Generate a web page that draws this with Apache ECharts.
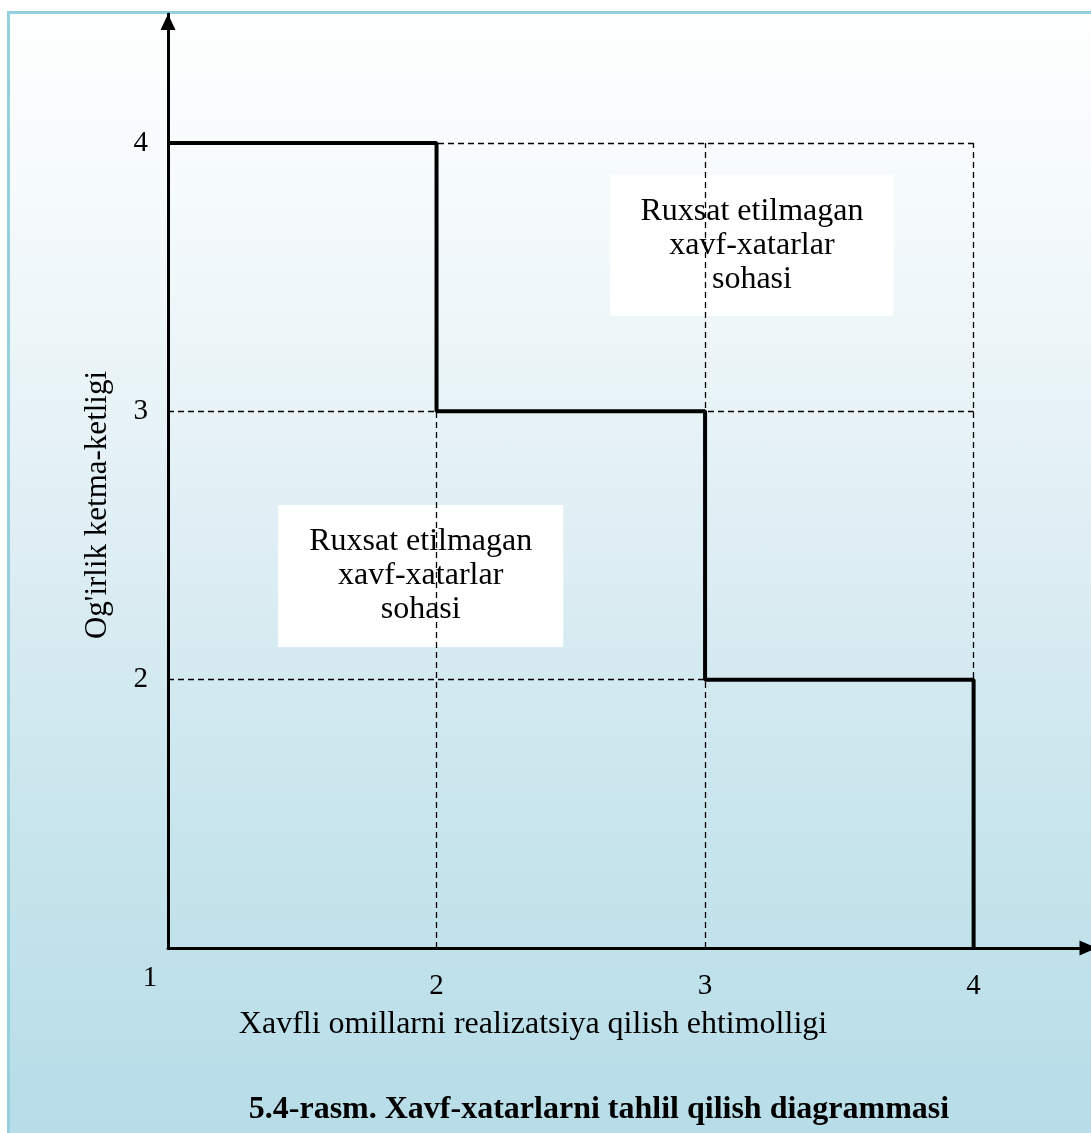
<!DOCTYPE html>
<html>
<head>
<meta charset="utf-8">
<script src="https://cdn.jsdelivr.net/npm/echarts@6/dist/echarts.min.js"></script>
<style>
html,body{margin:0;padding:0;background:#ffffff;width:1091px;height:1133px;overflow:hidden;}
#frame{position:absolute;left:7px;top:11px;width:1081px;height:1119px;border-left:3px solid #94cfdc;border-top:3px solid #94cfdc;background:linear-gradient(to bottom,#feffff 0%,#f3f9fb 20%,#dcedf3 50%,#c6e4ec 75%,#b7dde8 100%);}
#chart{position:absolute;left:0;top:0;width:1091px;height:1133px;}
</style>
</head>
<body>
<div id="frame"></div>
<div id="chart"></div>
<script>
// ---- data ----
var xTicks = [1, 2, 3, 4];
var yTicks = [1, 2, 3, 4];
var stepPoints = [[1, 4], [2, 3], [3, 2], [4, 1]];
var gridX = [2, 3, 4];
var gridY = [2, 3, 4];
var xName = 'Xavfli omillarni realizatsiya qilish ehtimolligi';
var yName = "Og'irlik ketma-ketligi";
var caption = '5.4-rasm. Xavf-xatarlarni tahlil qilish diagrammasi';
var regionText = 'Ruxsat etilmagan\nxavf-xatarlar\nsohasi';
var originLabel = '1';

var FONT = '"Liberation Serif", "Times New Roman", serif';

function tickLabel(v) {
  return (v !== 1 && Math.abs(v - Math.round(v)) < 1e-9) ? String(v) : '';
}

var gridLines = [];
gridX.forEach(function (x) { gridLines.push([{coord: [x, 1]}, {coord: [x, 4]}]); });
gridY.forEach(function (y) { gridLines.push([{coord: [1, y]}, {coord: [4, y]}]); });

var chart = echarts.init(document.getElementById('chart'), null, {renderer: 'canvas'});
var option = {
  backgroundColor: 'transparent',
  animation: false,
  title: {
    text: caption,
    left: 594, top: 1089, textAlign: 'center',
    textStyle: {fontFamily: FONT, fontSize: 32, fontWeight: 'bold', color: '#000'}
  },
  grid: {left: 168, top: 14, width: 920, height: 934},
  xAxis: {
    type: 'value', min: 1, max: 4.426, interval: 1,
    axisLine: {show: true, symbol: ['none', 'triangle'], symbolSize: [15, 17], lineStyle: {color: '#000', width: 3}},
    axisTick: {show: false},
    splitLine: {show: false},
    axisLabel: {
      margin: 24, color: '#000', fontFamily: FONT, fontSize: 29, showMaxLabel: false,
      formatter: tickLabel
    },
    name: xName, nameLocation: 'middle', nameGap: 61,
    nameTextStyle: {fontFamily: FONT, fontSize: 32, color: '#000', padding: [0, 190, 0, 0]}
  },
  yAxis: {
    type: 'value', min: 1, max: 4.481, interval: 1,
    axisLine: {show: true, symbol: ['none', 'triangle'], symbolSize: [15, 16], symbolOffset: [0, -8], lineStyle: {color: '#000', width: 3}},
    axisTick: {show: false},
    splitLine: {show: false},
    axisLabel: {
      margin: 20, color: '#000', fontFamily: FONT, fontSize: 29, showMaxLabel: false,
      formatter: tickLabel
    },
    name: yName, nameLocation: 'middle', nameGap: 55, nameRotate: 90,
    nameTextStyle: {fontFamily: FONT, fontSize: 31, color: '#000', padding: [0, 48, 0, 0]}
  },
  series: [
    {
      type: 'line', data: [], silent: true,
      markLine: {
        silent: true, symbol: ['none', 'none'], label: {show: false},
        lineStyle: {type: [6, 4], color: '#000', width: 1.3},
        data: gridLines
      },
      markArea: {
        silent: true,
        itemStyle: {color: '#ffffff'},
        label: {
          show: true, position: 'inside', color: '#000',
          fontFamily: FONT, fontSize: 32, lineHeight: 34, align: 'center'
        },
        data: [
          [{name: regionText, coord: [2.647, 3.881]}, {coord: [3.702, 3.355]}],
          [{name: regionText, coord: [1.41, 2.651]}, {coord: [2.472, 2.122]}]
        ]
      }
    },
    {
      type: 'line', data: stepPoints, step: 'end', symbol: 'none', z: 5,
      lineStyle: {color: '#000', width: 4}
    }
  ]
};
chart.setOption(option);
var p = chart.convertToPixel({gridIndex: 0}, [xTicks[0], yTicks[0]]);
chart.setOption({
  graphic: [{
    type: 'text', x: p[0] - 18, y: p[1] + 30,
    style: {text: originLabel, font: '29px ' + FONT, fill: '#000', textAlign: 'center', textVerticalAlign: 'middle'}
  }]
});
</script>
</body>
</html>
